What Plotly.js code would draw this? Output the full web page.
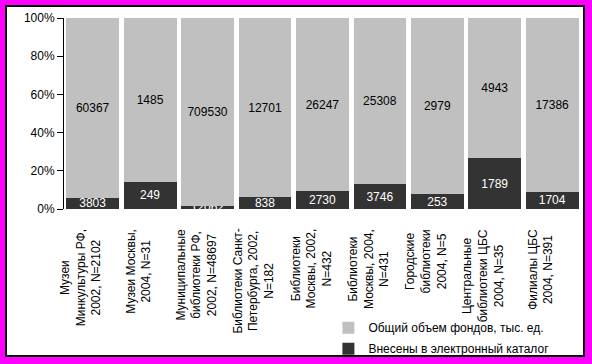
<!DOCTYPE html>
<html>
<head>
<meta charset="utf-8">
<script src="https://cdn.plot.ly/plotly-3.0.1.min.js"></script>
<style>
  html, body { margin: 0; padding: 0; width: 592px; height: 364px; background: #FF00FF; overflow: hidden; }
  #frame { position: absolute; left: 5px; top: 5px; width: 576px; height: 348px; border: 2px solid #000; background: #fff; }
  #chart { width: 576px; height: 348px; }
</style>
</head>
<body>
<div id="frame"><div id="chart"></div></div>
<script>
const categories = [
  "Музеи<br>Минкультуры РФ,<br>2002, N=2102",
  "Музеи Москвы,<br>2004, N=31",
  "Муниципальные<br>библиотеки РФ,<br>2002, N=48697",
  "Библиотеки Санкт-<br>Петербурга, 2002,<br>N=182",
  "Библиотеки<br>Москвы, 2002,<br>N=432",
  "Библиотеки<br>Москвы, 2004,<br>N=431",
  "Городские<br>библиотеки<br>2004, N=5",
  "Центральные<br>библиотеки ЦБС<br>2004, N=35",
  "Филиалы ЦБС<br>2004, N=391"
];
const catalogued = [3803, 249, 12062, 838, 2730, 3746, 253, 1789, 1704];
const totalFunds = [60367, 1485, 709530, 12701, 26247, 25308, 2979, 4943, 17386];
const seriesNames = ["Внесены в электронный каталог", "Общий объем фондов, тыс. ед."];
const yTicks = [0, 20, 40, 60, 80, 100];

const FONT = "'Liberation Sans', Arial, sans-serif";

const traces = [
  {
    type: "bar", name: seriesNames[0], x: categories, y: catalogued,
    legendgroup: "cat", legendrank: 2,
    text: catalogued.map(String), texttemplate: "%{text}",
    textposition: "inside", insidetextanchor: "middle", constraintext: "none",
    textangle: 0, cliponaxis: false,
    textfont: { family: FONT, size: 12, color: "#FFFFFF" },
    marker: { color: "#333333", line: { width: 0 } },
    hoverinfo: "skip"
  },
  {
    type: "bar", name: seriesNames[1], x: categories, y: totalFunds,
    legendgroup: "tot", legendrank: 1,
    text: totalFunds.map(String), texttemplate: "%{text}",
    textposition: "inside", insidetextanchor: "middle", constraintext: "none",
    textangle: 0,
    textfont: { family: FONT, size: 12, color: "#000000" },
    marker: { color: "#C0C0C0", line: { width: 0 } },
    hoverinfo: "skip"
  }
];

const annotations = categories.map(c => ({
  x: c, xref: "x", y: 0, yref: "paper",
  xanchor: "center", yanchor: "top", xshift: -12, yshift: -18,
  text: c, textangle: -90, align: "center", showarrow: false,
  font: { family: FONT, size: 12, color: "#000" }
}));

const layout = {
  width: 576, height: 348,
  margin: { l: 57, r: 2, t: 11, b: 146, pad: 0, autoexpand: false },
  paper_bgcolor: "#fff", plot_bgcolor: "#fff",
  font: { family: FONT, size: 12, color: "#000" },
  barmode: "stack", barnorm: "percent", bargap: 0.08,
  showlegend: true,
  legend: {
    xref: "container", yref: "container",
    x: 0.558, y: 0.12, xanchor: "left", yanchor: "top",
    traceorder: "grouped", bgcolor: "rgba(0,0,0,0)",
    font: { family: FONT, size: 12, color: "#000" },
    tracegroupgap: 2
  },
  xaxis: {
    type: "category", range: [-0.5, categories.length - 0.5], autorange: false,
    showticklabels: false, ticks: "", showline: false, showgrid: false, zeroline: false,
    fixedrange: true, automargin: false
  },
  yaxis: {
    range: [0, 100], autorange: false, tickvals: yTicks, ticktext: yTicks.map(v => v + "%"),
    ticks: "outside", ticklen: 6, tickcolor: "#000", tickwidth: 1,
    showline: true, linecolor: "#000", linewidth: 1,
    showgrid: false, zeroline: false, fixedrange: true, automargin: false,
    tickfont: { family: FONT, size: 12, color: "#000" }
  },
  annotations: annotations
};

Plotly.newPlot("chart", traces, layout, { displayModeBar: false, staticPlot: true });
</script>
</body>
</html>
